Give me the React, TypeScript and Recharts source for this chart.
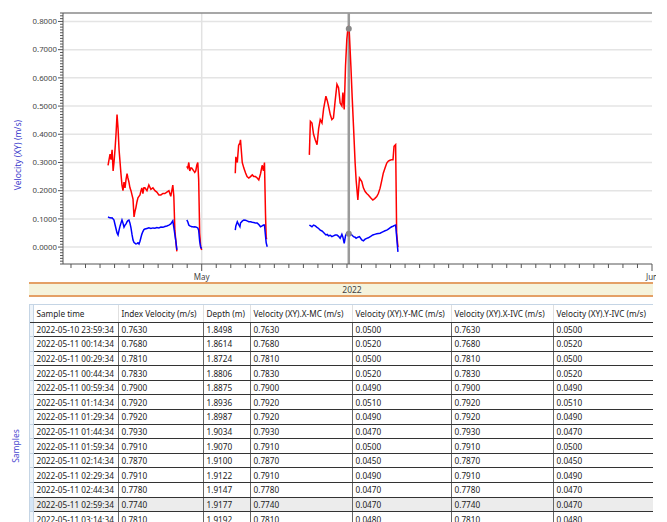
import React from "react";
import { LineChart, Line, XAxis, YAxis, ReferenceLine, ReferenceDot } from "recharts";

// sample time as days from 2022-05-01 00:00, gaps marked with null
const days = [
  -6.45, -6.38, -6.31, -6.24, -6.17, -6.10, -6.04, -5.97, -5.90, -5.83, -5.76, -5.69, -5.62, -5.56,
  -5.49, -5.42, -5.35, -5.28, -5.21, -5.14, -5.08, -5.01, -4.94, -4.87, -4.80, -4.73, -4.66, -4.60,
  -4.53, -4.46, -4.39, -4.32, -4.25, -4.18, -4.12, -4.05, -3.98, -3.91, -3.77, -3.64, -3.50, -3.36,
  -3.22, -3.09, -2.95, -2.81, -2.67, -2.54, -2.40, -2.26, -2.13, -1.99, -1.92, -1.85, -1.78, -1.71,
  -1.40,
  -1.03, -0.96, -0.89, -0.82, -0.75, -0.69, -0.62, -0.55, -0.48, -0.41, -0.34, -0.27, -0.21, -0.14,
  -0.07, 0.00,
  1.20,
  2.31, 2.35, 2.45, 2.54, 2.63, 2.67, 2.79, 2.90, 3.02, 3.12, 3.24, 3.36, 3.48, 3.59, 3.70, 3.82,
  3.93, 4.05, 4.16, 4.25, 4.32, 4.39, 4.44, 4.51,
  6.00,
  7.41, 7.48, 7.59, 7.70, 7.82, 7.94, 8.05, 8.16, 8.28, 8.39, 8.55, 8.64, 8.73, 8.85, 8.96, 9.07,
  9.19, 9.31, 9.42, 9.53, 9.65, 9.72, 9.81, 9.90, 9.99, 10.08, 10.15, 10.27, 10.36, 10.45, 10.56,
  10.63, 10.75, 10.86, 11.02, 11.13, 11.25, 11.36, 11.47, 11.63, 11.78, 11.91, 12.05, 12.16, 12.28,
  12.39, 12.50, 12.62, 12.74, 12.85, 12.96, 13.08, 13.17, 13.24, 13.35, 13.42, 13.51,
];

const velocityX = [
  0.29, 0.31, 0.33, 0.31, 0.345, 0.27, 0.30, 0.345, 0.40, 0.47, 0.42, 0.345, 0.30, 0.26,
  0.22, 0.20, 0.23, 0.21, 0.24, 0.26, 0.245, 0.23, 0.21, 0.20, 0.185, 0.17, 0.107, 0.125,
  0.14, 0.16, 0.175, 0.18, 0.185, 0.20, 0.21, 0.19, 0.21, 0.21, 0.20, 0.22, 0.205, 0.21,
  0.20, 0.195, 0.185, 0.185, 0.19, 0.19, 0.195, 0.20, 0.18, 0.22, 0.18, 0.06, 0.02, -0.015,
  null,
  0.286, 0.28, 0.30, 0.27, 0.28, 0.28, 0.275, 0.27, 0.265, 0.27, 0.29, 0.30, 0.24, 0.05,
  0.0, -0.01,
  null,
  0.262, 0.32, 0.30, 0.36, 0.37, 0.38, 0.30, 0.28, 0.263, 0.25, 0.245, 0.25, 0.256, 0.25, 0.25, 0.245,
  0.238, 0.26, 0.29, 0.27, 0.30, 0.12, 0.03, 0.03,
  null,
  0.327, 0.446, 0.44, 0.40, 0.38, 0.363, 0.42, 0.452, 0.44, 0.49, 0.535, 0.52, 0.50, 0.47, 0.452, 0.458,
  0.52, 0.577, 0.565, 0.511, 0.50, 0.548, 0.488, 0.642, 0.737, 0.784, 0.772, 0.642, 0.53, 0.428, 0.30,
  0.238, 0.167, 0.245, 0.232, 0.21, 0.197, 0.19, 0.185, 0.175, 0.167, 0.172, 0.179, 0.19, 0.209,
  0.235, 0.262, 0.28, 0.298, 0.305, 0.308, 0.31, 0.31, 0.357, 0.363, 0.05, 0.0,
];

const velocityY = [
  0.107, 0.105, 0.104, 0.103, 0.104, 0.100, 0.096, 0.080, 0.065, 0.050, 0.043, 0.060, 0.075, 0.085,
  0.096, 0.085, 0.071, 0.078, 0.082, 0.090, 0.094, 0.096, 0.085, 0.068, 0.045, 0.025, 0.016, 0.014,
  0.011, 0.012, 0.015, 0.011, 0.021, 0.035, 0.046, 0.055, 0.062, 0.064, 0.066, 0.068, 0.066, 0.068,
  0.067, 0.069, 0.068, 0.071, 0.070, 0.073, 0.075, 0.078, 0.082, 0.093, 0.070, 0.045, 0.020, -0.010,
  null,
  0.096, 0.090, 0.078, 0.075, 0.074, 0.072, 0.072, 0.071, 0.072, 0.071, 0.070, 0.068, 0.060, 0.020,
  0.000, -0.005,
  null,
  0.060, 0.075, 0.090, 0.080, 0.072, 0.085, 0.092, 0.096, 0.095, 0.093, 0.090, 0.090, 0.088, 0.087, 0.085, 0.085,
  0.080, 0.072, 0.075, 0.078, 0.078, 0.040, 0.015, 0.001,
  null,
  0.078, 0.076, 0.072, 0.078, 0.075, 0.070, 0.066, 0.060, 0.057, 0.052, 0.043, 0.045, 0.040, 0.042, 0.037, 0.040,
  0.043, 0.043, 0.038, 0.031, 0.045, 0.035, 0.013, 0.040, 0.050, 0.048, 0.049, 0.045, 0.042, 0.037, 0.035,
  0.031, 0.035, 0.037, 0.025, 0.022, 0.028, 0.031, 0.033, 0.038, 0.043, 0.045, 0.047, 0.048, 0.049,
  0.052, 0.055, 0.058, 0.060, 0.064, 0.068, 0.072, 0.074, 0.076, 0.078, 0.037, -0.017,
];

const monthLabels = [
  { day: 0, label: "May" },
  { day: 31, label: "Jun" },
];
const yearLabel = "2022";
const yMajor = [0, 0.1, 0.2, 0.3, 0.4, 0.5, 0.6, 0.7, 0.8];
const yAxisTitle = "Velocity (XY) (m/s)";

// selected sample (cursor)
const selectedDay = 10.125;
const selectedX = 0.774;
const selectedY = 0.047;

// table
const columns = [
  "Sample time",
  "Index Velocity (m/s)",
  "Depth (m)",
  "Velocity (XY).X-MC (m/s)",
  "Velocity (XY).Y-MC (m/s)",
  "Velocity (XY).X-IVC (m/s)",
  "Velocity (XY).Y-IVC (m/s)",
];
const columnWidths = [85, 85, 47, 102, 99, 102, 100];
const sampleTimes = [
  "2022-05-10 23:59:34", "2022-05-11 00:14:34", "2022-05-11 00:29:34", "2022-05-11 00:44:34",
  "2022-05-11 00:59:34", "2022-05-11 01:14:34", "2022-05-11 01:29:34", "2022-05-11 01:44:34",
  "2022-05-11 01:59:34", "2022-05-11 02:14:34", "2022-05-11 02:29:34", "2022-05-11 02:44:34",
  "2022-05-11 02:59:34", "2022-05-11 03:14:34",
];
const indexVelocity = ["0.7630", "0.7680", "0.7810", "0.7830", "0.7900", "0.7920", "0.7920", "0.7930", "0.7910", "0.7870", "0.7910", "0.7780", "0.7740", "0.7810"];
const depth = ["1.8498", "1.8614", "1.8724", "1.8806", "1.8875", "1.8936", "1.8987", "1.9034", "1.9070", "1.9100", "1.9122", "1.9147", "1.9177", "1.9192"];
const velXMC = ["0.7630", "0.7680", "0.7810", "0.7830", "0.7900", "0.7920", "0.7920", "0.7930", "0.7910", "0.7870", "0.7910", "0.7780", "0.7740", "0.7810"];
const velYMC = ["0.0500", "0.0520", "0.0500", "0.0520", "0.0490", "0.0510", "0.0490", "0.0470", "0.0500", "0.0450", "0.0490", "0.0470", "0.0470", "0.0480"];
const velXIVC = ["0.7630", "0.7680", "0.7810", "0.7830", "0.7900", "0.7920", "0.7920", "0.7930", "0.7910", "0.7870", "0.7910", "0.7780", "0.7740", "0.7810"];
const velYIVC = ["0.0500", "0.0520", "0.0500", "0.0520", "0.0490", "0.0510", "0.0490", "0.0470", "0.0500", "0.0450", "0.0490", "0.0470", "0.0470", "0.0480"];
const selectedRow = 12;

const chartData = days.map((d, i) => ({ day: d, vx: velocityX[i], vy: velocityY[i] }));
const dayTicks = Array.from({ length: 41 }, (_, i) => i - 9);
const yTicks = Array.from({ length: 90 }, (_, i) => (i - 6) / 100);

const FONT = "'Noto Sans', 'Open Sans', sans-serif";
const AXIS = "#555";

const XTick = (props: any) => {
  const { x, y, payload } = props;
  const month = monthLabels.find((m) => m.day === payload.value);
  return (
    <g>
      <line x1={x} y1={y} x2={x} y2={y + (month ? 7 : 4)} stroke={AXIS} strokeWidth={1} />
      {month && (
        <text x={x} y={y + 16} textAnchor="middle" fontSize={8} fill="#444" fontFamily={FONT}>
          {month.label}
        </text>
      )}
    </g>
  );
};

const YTick = (props: any) => {
  const { x, y, payload } = props;
  const v = payload.value;
  const major = yMajor.some((m) => Math.abs(m - v) < 1e-6);
  return (
    <g>
      <line x1={x - (major ? 5 : 3)} y1={y} x2={x} y2={y} stroke={AXIS} strokeWidth={1} />
      {major && (
        <text x={x - 6} y={y} dy="0.35em" textAnchor="end" fontSize={7.8} fill="#444" fontFamily={FONT}>
          {v.toFixed(4)}
        </text>
      )}
    </g>
  );
};

const rows = sampleTimes.map((t, i) => [t, indexVelocity[i], depth[i], velXMC[i], velYMC[i], velXIVC[i], velYIVC[i]]);

export default function App() {
  const cell: React.CSSProperties = {
    padding: "0 3px",
    fontSize: 8.2,
    color: "#222",
    whiteSpace: "nowrap",
    overflow: "hidden",
    textAlign: "left",
    fontWeight: "normal",
  };
  return (
    <div
      style={{
        position: "absolute",
        left: 0,
        top: 0,
        width: 667,
        height: 522,
        overflow: "hidden",
        background: "#fff",
        fontFamily: FONT,
      }}
    >
      <LineChart width={656} height={282} data={chartData} margin={{ top: 13, right: 4, bottom: 0, left: 0 }}>
        {yMajor.map((v) => (
          <ReferenceLine key={v} y={v} stroke="#e4e4e4" strokeWidth={1.5} />
        ))}
        <ReferenceLine x={0} stroke="#e2e2e2" strokeWidth={1.5} />
        <ReferenceLine y={0.83} stroke="#8a8a8a" strokeWidth={1.5} />
        <XAxis
          dataKey="day"
          type="number"
          domain={[-9.55, 31]}
          ticks={dayTicks}
          interval={0}
          height={18}
          tickSize={0}
          tickMargin={0}
          tick={<XTick />}
          axisLine={{ stroke: AXIS }}
          tickLine={false}
        />
        <YAxis
          type="number"
          domain={[-0.06, 0.83]}
          ticks={yTicks}
          interval={0}
          width={63}
          tickSize={0}
          tickMargin={0}
          tick={<YTick />}
          axisLine={{ stroke: AXIS }}
          tickLine={false}
        />
        <ReferenceLine x={selectedDay} stroke="#9a9a9a" strokeWidth={2.5} />
        <Line
          type="linear"
          dataKey="vx"
          stroke="#ff0000"
          strokeWidth={1.5}
          dot={false}
          connectNulls={false}
          isAnimationActive={false}
        />
        <Line
          type="linear"
          dataKey="vy"
          stroke="#0000ff"
          strokeWidth={1.5}
          dot={false}
          connectNulls={false}
          isAnimationActive={false}
        />
        <ReferenceDot x={selectedDay} y={selectedX} r={3} fill="#888" stroke="none" />
        <ReferenceDot x={selectedDay} y={selectedY} r={3} fill="#888" stroke="none" />
      </LineChart>

      <div
        style={{
          position: "absolute",
          left: 17,
          top: 155,
          transform: "translate(-50%, -50%) rotate(-90deg)",
          whiteSpace: "nowrap",
          fontSize: 8.5,
          color: "#3a3acc",
        }}
      >
        {yAxisTitle}
      </div>

      <div
        style={{
          position: "absolute",
          left: 29,
          top: 282,
          width: 624,
          height: 15,
          boxSizing: "border-box",
          background: "#f5f3dc",
          borderTop: "2px solid #e4a066",
          borderBottom: "2px solid #e4a066",
        }}
      >
        <span
          style={{
            position: "absolute",
            left: 352 - 29,
            top: 0,
            transform: "translateX(-50%)",
            fontSize: 8.5,
            lineHeight: "11px",
            color: "#444",
          }}
        >
          {yearLabel}
        </span>
      </div>

      <div
        style={{
          position: "absolute",
          left: 15,
          top: 446,
          transform: "translate(-50%, -50%) rotate(-90deg)",
          whiteSpace: "nowrap",
          fontSize: 8.5,
          color: "#4a4ad0",
        }}
      >
        Samples
      </div>

      <div
        style={{
          position: "absolute",
          left: 29,
          top: 304,
          width: 624,
          height: 230,
          overflow: "hidden",
          borderTop: "1px solid #c5d5e5",
          borderLeft: "1px solid #c5d5e5",
          boxSizing: "border-box",
        }}
      >
        <table style={{ borderCollapse: "collapse", tableLayout: "fixed", width: 623 }}>
          <colgroup>
            <col style={{ width: 3 }} />
            {columnWidths.map((w, i) => (
              <col key={i} style={{ width: w }} />
            ))}
          </colgroup>
          <thead>
            <tr style={{ height: 17 }}>
              <th style={{ padding: 0, background: "#eef4fa", borderRight: "1px solid #c5d5e5", borderBottom: "1px solid #333" }} />
              {columns.map((c, i) => (
                <th
                  key={i}
                  style={{
                    ...cell,
                    borderRight: "1px solid #e0e0e0",
                    borderBottom: "1px solid #333",
                  }}
                >
                  {c}
                </th>
              ))}
            </tr>
          </thead>
          <tbody>
            {rows.map((r, ri) => (
              <tr key={ri} style={{ height: 14.6, background: ri === selectedRow ? "#ececec" : "#fff" }}>
                <td
                  style={{
                    padding: 0,
                    background: ri === selectedRow ? "#d6e6f6" : "#eef4fa",
                    borderRight: "1px solid #c5d5e5",
                    borderBottom: "1px solid #c5d5e5",
                  }}
                />
                {r.map((v, ci) => (
                  <td
                    key={ci}
                    style={{
                      ...cell,
                      borderRight: "1px solid #666",
                      borderBottom: "1px solid #333",
                    }}
                  >
                    {v}
                  </td>
                ))}
              </tr>
            ))}
          </tbody>
        </table>
      </div>
    </div>
  );
}
